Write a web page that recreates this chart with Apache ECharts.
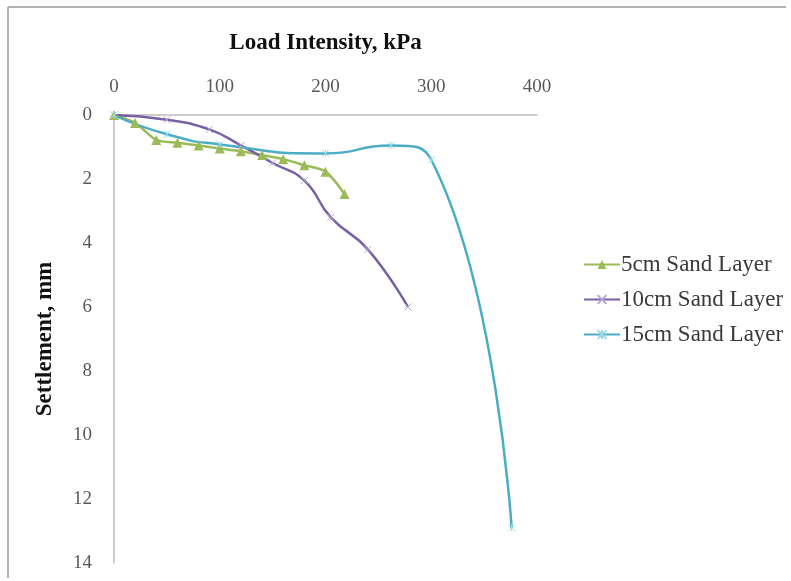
<!DOCTYPE html>
<html>
<head>
<meta charset="utf-8">
<script src="https://cdn.jsdelivr.net/npm/echarts@6/dist/echarts.min.js"></script>
<style>
  html, body { margin: 0; padding: 0; background: #fff; }
  #chart { width: 791px; height: 581px; }
</style>
</head>
<body>
<div id="chart"></div>
<script>
// load intensity (kPa) and settlement (mm)
const load5 = [0, 20, 40, 60, 80, 100, 120, 140, 160, 180, 200, 218];
const settle5 = [0, 0.25, 0.78, 0.87, 0.95, 1.05, 1.13, 1.25, 1.38, 1.57, 1.77, 2.47];

const load10 = [0, 50, 90, 120, 150, 180, 205, 240, 278];
const settle10 = [0, 0.15, 0.45, 0.95, 1.5, 2.05, 3.2, 4.2, 6.0];

const load15 = [0, 50, 100, 200, 262, 300, 376];
const settle15 = [0, 0.6, 0.92, 1.2, 0.95, 1.4, 12.9];

const seriesNames = ['5cm Sand Layer', '10cm Sand Layer', '15cm Sand Layer'];
const xTicks = [0, 100, 200, 300, 400];
const yTicks = [0, 2, 4, 6, 8, 10, 12, 14];

const colors = ['#9bbb59', '#7760a3', '#4bacc6'];
const font = '"Liberation Serif", "Times New Roman", serif';

function pairs(xs, ys) {
  return xs.map((x, i) => [x, ys[i]]);
}

// marker shapes like excel's x and star
const xMark = 'path://M0,0L10,10M10,0L0,10';
const starMark = 'path://M0,0L10,10M10,0L0,10M5,0L5,10';

let myChart = echarts.init(document.getElementById('chart'));

let option = {
  backgroundColor: '#fff',
  animation: false,
  color: colors,
  graphic: [
    { type: 'line', shape: { x1: 8, y1: 7, x2: 786, y2: 7 }, style: { stroke: '#9a9a9a', lineWidth: 1.5 } },
    { type: 'line', shape: { x1: 8, y1: 7, x2: 8, y2: 578 }, style: { stroke: '#9a9a9a', lineWidth: 1.5 } }
  ],
  legend: {
    orient: 'vertical',
    left: 578,
    top: 248,
    itemWidth: 36,
    itemHeight: 11,
    itemGap: 12,
    data: seriesNames,
    textStyle: { fontFamily: font, fontSize: 23, color: '#3a3a3a', padding: [0, 0, 0, -4] }
  },
  grid: {
    left: 114,
    top: 115,
    right: 254,
    bottom: 18
  },
  xAxis: {
    type: 'value',
    position: 'top',
    min: 0,
    max: 400,
    interval: 100,
    name: 'Load Intensity, kPa',
    nameLocation: 'middle',
    nameGap: 60,
    nameTextStyle: { fontFamily: font, fontSize: 23, fontWeight: 'bold', color: '#111' },
    axisLine: { show: true, lineStyle: { color: '#bdbdbd', width: 1.5 } },
    axisTick: { show: false },
    splitLine: { show: false },
    axisLabel: {
      margin: 18,
      fontFamily: font,
      fontSize: 19,
      color: '#595959',
      formatter: v => (xTicks.indexOf(v) >= 0 ? String(v) : '')
    }
  },
  yAxis: {
    type: 'value',
    inverse: true,
    min: 0,
    max: 14,
    interval: 2,
    name: 'Settlement, mm',
    nameLocation: 'middle',
    nameGap: 57,
    nameTextStyle: { fontFamily: font, fontSize: 23, fontWeight: 'bold', color: '#111' },
    axisLine: { show: true, lineStyle: { color: '#bdbdbd', width: 1.5 } },
    axisTick: { show: false },
    splitLine: { show: false },
    axisLabel: {
      margin: 22,
      fontFamily: font,
      fontSize: 19,
      color: '#595959',
      formatter: v => (yTicks.indexOf(v) >= 0 ? String(v) : '')
    }
  },
  series: [
    {
      name: seriesNames[0],
      type: 'line',
      smooth: 0.3,
      symbol: 'triangle',
      symbolSize: 10,
      lineStyle: { width: 2.5, color: colors[0] },
      itemStyle: { color: colors[0] },
      data: pairs(load5, settle5)
    },
    {
      name: seriesNames[1],
      type: 'line',
      smooth: 0.5,
      symbol: xMark,
      symbolSize: 7,
      lineStyle: { width: 2.5, color: colors[1] },
      itemStyle: { color: colors[1], borderColor: '#b7a6d6', borderWidth: 1 },
      data: pairs(load10, settle10)
    },
    {
      name: seriesNames[2],
      type: 'line',
      smooth: 0.6,
      symbol: starMark,
      symbolSize: 7,
      lineStyle: { width: 2.5, color: colors[2] },
      itemStyle: { color: colors[2], borderColor: '#9ad8e8', borderWidth: 1 },
      data: pairs(load15, settle15)
    }
  ]
};

myChart.setOption(option);
</script>
</body>
</html>
